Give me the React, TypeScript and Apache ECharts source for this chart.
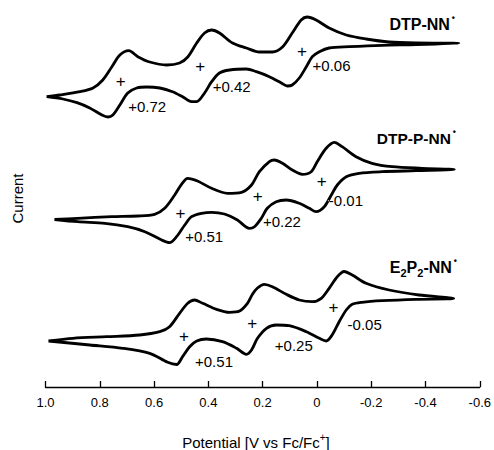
import React, { useEffect, useRef } from 'react';
import * as echarts from 'echarts';

// Potential (V vs Fc/Fc+) and current (a.u., vertically offset)
const dtpNN: number[][] = [
  [0.996, 290.3], [0.947, 292], [0.873, 295.3], [0.825, 299], [0.789, 307], [0.756, 320], [0.726, 332], [0.693, 336.3],
  [0.66, 330.3], [0.616, 325], [0.554, 322], [0.506, 324], [0.476, 330], [0.443, 344], [0.414, 354], [0.388, 357],
  [0.359, 354], [0.311, 344], [0.26, 339], [0.212, 335], [0.164, 335], [0.127, 340], [0.091, 354], [0.058, 367],
  [0.036, 370], [0.003, 367], [-0.045, 359], [-0.108, 352], [-0.181, 348], [-0.266, 345], [-0.365, 344], [-0.523, 343.7],
  [-0.365, 342.3], [-0.24, 341.7], [-0.119, 340.3], [-0.045, 339], [-0.009, 335.3], [0.017, 330.3], [0.039, 320.3],
  [0.065, 309], [0.091, 302], [0.109, 301], [0.131, 304], [0.175, 310.3], [0.223, 315.3], [0.26, 318], [0.322, 317],
  [0.359, 314], [0.388, 305.3], [0.414, 294], [0.443, 285.3], [0.462, 285.3], [0.495, 290.3], [0.532, 295.3],
  [0.579, 299], [0.627, 300], [0.664, 299], [0.697, 294], [0.726, 282], [0.752, 272], [0.77, 270], [0.792, 272],
  [0.837, 279], [0.884, 284.3], [0.936, 288], [0.996, 290.3],
];

const dtpPNN: number[][] = [
  [0.967, 167.5], [0.881, 168.7], [0.756, 170.3], [0.66, 171], [0.598, 172.7], [0.561, 178.7], [0.524, 192], [0.499, 202.7],
  [0.476, 208.7], [0.44, 206], [0.388, 198.7], [0.33, 193.7], [0.278, 194.7], [0.241, 202], [0.212, 215.3], [0.175, 225.3],
  [0.157, 227], [0.127, 223.7], [0.091, 217], [0.054, 212.7], [0.021, 215.3], [-0.001, 225.3], [-0.034, 238.7],
  [-0.064, 244.7], [-0.093, 240.3], [-0.144, 230.3], [-0.203, 223.7], [-0.277, 220.3], [-0.387, 218.7], [-0.506, 217.5],
  [-0.365, 216.3], [-0.24, 215.3], [-0.155, 213.7], [-0.108, 210.3], [-0.075, 202], [-0.053, 192], [-0.027, 180.3],
  [0.003, 175.3], [0.028, 178.7], [0.065, 183.7], [0.113, 187], [0.15, 185.3], [0.183, 178.7], [0.205, 168.7],
  [0.23, 160.3], [0.249, 158.7], [0.293, 167], [0.341, 173], [0.388, 174.7], [0.425, 173.7], [0.462, 170.3],
  [0.487, 162], [0.517, 150.3], [0.543, 144.3], [0.572, 147], [0.634, 155.3], [0.697, 160.3], [0.781, 163.7],
  [0.881, 165.3], [0.967, 167.5],
];

const e2p2NN: number[][] = [
  [0.989, 46], [0.899, 48.7], [0.774, 50.3], [0.653, 52], [0.579, 55.3], [0.543, 60.3], [0.506, 73.7], [0.476, 83.7],
  [0.451, 87], [0.421, 83.7], [0.37, 77.7], [0.322, 74.7], [0.285, 76], [0.256, 83.7], [0.237, 93], [0.219, 99],
  [0.194, 102.7], [0.164, 100.3], [0.113, 92.7], [0.065, 87], [0.017, 85.3], [-0.016, 88.7], [-0.045, 98.7],
  [-0.075, 110.3], [-0.1, 115.5], [-0.13, 112], [-0.181, 103.7], [-0.266, 97], [-0.376, 92], [-0.504, 88.5],
  [-0.365, 87.7], [-0.24, 86.3], [-0.166, 84.7], [-0.13, 82.7], [-0.108, 77], [-0.082, 65.3], [-0.056, 52],
  [-0.034, 46], [-0.009, 48.7], [0.039, 55.3], [0.102, 61.3], [0.15, 62], [0.186, 58.7], [0.219, 48.7], [0.241, 37],
  [0.26, 32.7], [0.296, 38.7], [0.348, 45.3], [0.407, 48], [0.443, 46], [0.469, 40.3], [0.495, 30.3], [0.517, 22.5],
  [0.55, 24.7], [0.616, 33.7], [0.715, 38.7], [0.837, 42], [0.989, 46],
];

// E1/2 markers ("+") and their value labels
const plusMarks: number[][] = [
  [0.723, 305.3], [0.43, 321], [0.055, 335.3],
  [0.503, 173.7], [0.218, 190.3], [-0.018, 205.3],
  [0.49, 50.3], [0.238, 63.7], [-0.061, 79.7],
];
const e12Labels: string[] = ['+0.72', '+0.42', '+0.06', '+0.51', '+0.22', '-0.01', '+0.51', '+0.25', '-0.05'];
const e12LabelPos: number[][] = [
  [0.697, 280.5], [0.386, 301], [0.018, 322],
  [0.487, 150.3], [0.201, 166], [-0.042, 186.3],
  [0.451, 25.3], [0.157, 41.3], [-0.111, 62.7],
];

const FONT = "'Liberation Sans', Arial, sans-serif";

export default function App() {
  const ref = useRef<HTMLDivElement>(null);
  useEffect(() => {
    if (!ref.current) return;
    const chart = echarts.init(ref.current, null, { renderer: 'svg' });
    const lineSeries = (name: string, data: number[][]) => ({
      type: 'line',
      name,
      data,
      smooth: 0.3,
      showSymbol: false,
      symbol: 'none',
      lineStyle: { color: '#000', width: 2.8 },
      silent: true,
      z: 2,
    });
    const labelBase = {
      show: true,
      color: '#000',
      fontSize: 15,
      fontFamily: FONT,
      textBorderWidth: 0,
      textBorderColor: 'transparent',
      textShadowBlur: 0,
      opacity: 1,
    };
    chart.setOption({
      animation: false,
      backgroundColor: '#fff',
      textStyle: { fontFamily: FONT },
      grid: { left: 45.5, right: 13, top: 10, bottom: 63, containLabel: false },
      xAxis: {
        type: 'value',
        inverse: true,
        min: -0.6,
        max: 1.0,
        interval: 0.2,
        axisLine: { show: true, lineStyle: { color: '#000', width: 1.3 } },
        axisTick: { show: true, inside: true, length: 6, lineStyle: { color: '#000', width: 1.3 } },
        splitLine: { show: false },
        axisLabel: {
          color: '#000',
          fontSize: 13,
          fontFamily: FONT,
          margin: 9,
          formatter: (v: number) => (Math.abs(v) < 1e-9 ? '0' : v.toFixed(1)),
        },
      },
      yAxis: {
        type: 'value',
        min: 0,
        max: 377,
        name: 'Current',
        nameLocation: 'middle',
        nameGap: 21,
        nameRotate: 90,
        nameTextStyle: { color: '#000', fontSize: 15, fontFamily: FONT },
        axisLine: { show: false },
        axisTick: { show: false },
        axisLabel: { show: false },
        splitLine: { show: false },
      },
      series: [
        lineSeries('DTP-NN', dtpNN),
        lineSeries('DTP-P-NN', dtpPNN),
        lineSeries('E2P2-NN', e2p2NN),
        {
          type: 'scatter',
          data: plusMarks,
          symbolSize: 1,
          itemStyle: { color: '#000', opacity: 1 },
          silent: true,
          label: { ...labelBase, position: 'inside', formatter: '+', fontSize: 17 },
          z: 3,
        },
        {
          type: 'scatter',
          data: e12LabelPos.map((p, i) => ({ value: p, name: e12Labels[i] })),
          symbolSize: 1,
          itemStyle: { color: '#fff', opacity: 1 },
          silent: true,
          label: { ...labelBase, position: 'right', distance: 0, formatter: (p: any) => p.name },
          z: 3,
        },
      ],
      graphic: [
        {
          type: 'text',
          right: 39,
          top: 13,
          style: {
            text: '{b|DTP-NN}{d|•}',
            rich: {
              b: { fontSize: 16, fontWeight: 'bold', fontFamily: FONT, fill: '#000', lineHeight: 22 },
              d: { fontSize: 9, fontWeight: 'bold', fontFamily: FONT, fill: '#000', lineHeight: 9, verticalAlign: 'top', padding: [0, 0, 0, 2] },
            },
          },
        },
        {
          type: 'text',
          right: 38,
          top: 127,
          style: {
            text: '{b|DTP-P-NN}{d|•}',
            rich: {
              b: { fontSize: 15.5, fontWeight: 'bold', fontFamily: FONT, fill: '#000', lineHeight: 22 },
              d: { fontSize: 9, fontWeight: 'bold', fontFamily: FONT, fill: '#000', lineHeight: 9, verticalAlign: 'top', padding: [0, 0, 0, 2] },
            },
          },
        },
        {
          type: 'text',
          right: 37,
          top: 256,
          style: {
            text: '{b|E}{s|2}{b|P}{s|2}{b|-NN}{d|•}',
            rich: {
              b: { fontSize: 16, fontWeight: 'bold', fontFamily: FONT, fill: '#000', lineHeight: 22 },
              s: { fontSize: 11, fontWeight: 'bold', fontFamily: FONT, fill: '#000', lineHeight: 12, verticalAlign: 'bottom' },
              d: { fontSize: 9, fontWeight: 'bold', fontFamily: FONT, fill: '#000', lineHeight: 9, verticalAlign: 'top', padding: [0, 0, 0, 2] },
            },
          },
        },
        {
          type: 'text',
          x: 256,
          y: 442,
          style: {
            text: '{n|Potential [V vs Fc/Fc}{p|+}{n|]}',
            align: 'center',
            verticalAlign: 'middle',
            rich: {
              n: { fontSize: 15, fontFamily: FONT, fill: '#000', lineHeight: 20 },
              p: { fontSize: 10, fontFamily: FONT, fill: '#000', lineHeight: 10, verticalAlign: 'top' },
            },
          },
        },
      ],
    });
    return () => chart.dispose();
  }, []);
  return <div ref={ref} style={{ position: 'fixed', left: 0, top: 0, width: 494, height: 450 }} />;
}
